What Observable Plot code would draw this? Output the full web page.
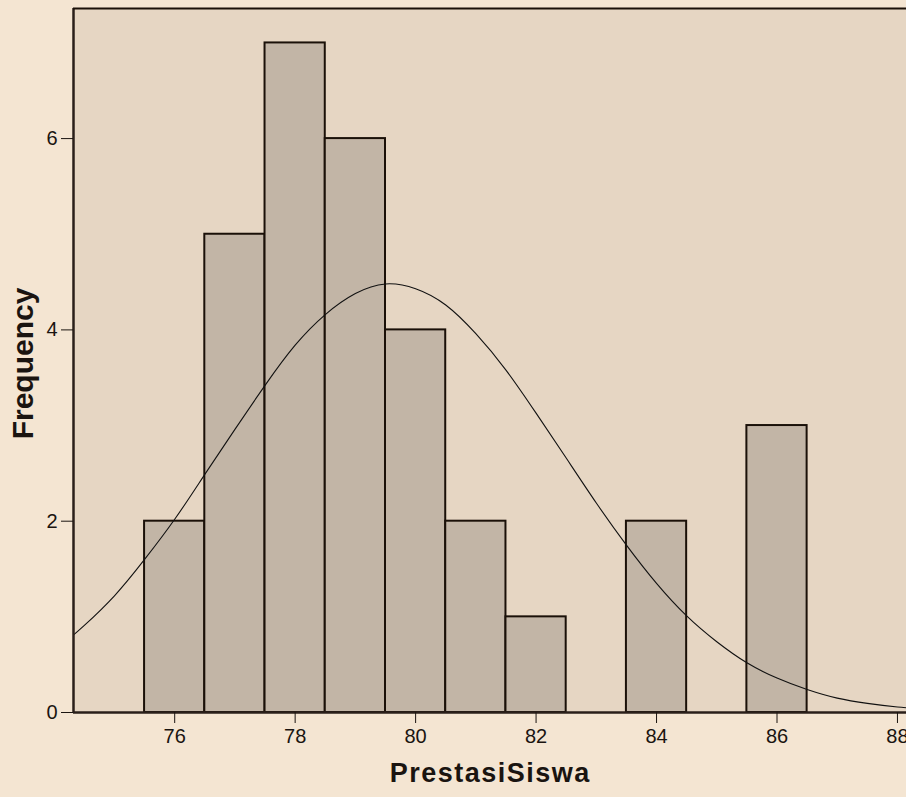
<!DOCTYPE html>
<html>
<head>
<meta charset="utf-8">
<script src="https://cdn.jsdelivr.net/npm/d3@7"></script>
<script src="https://cdn.jsdelivr.net/npm/@observablehq/plot@0.6"></script>
<style>
  html, body { margin: 0; padding: 0; background: #f4e5d2; }
  #chart { width: 906px; height: 797px; }
  svg { display: block; }
  #chart svg g[aria-label="x-axis tick label"] { font-size: 20px; }
  #chart svg g[aria-label="y-axis tick label"] { font-size: 20px; }
  #chart svg .xlab text { letter-spacing: 1.5px; }
</style>
</head>
<body>
<div id="chart"></div>
<script>
// Histogram bins (lower edge, upper edge) and frequencies
const binLower = [75.5, 76.5, 77.5, 78.5, 79.5, 80.5, 81.5, 83.5, 85.5];
const binUpper = [76.5, 77.5, 78.5, 79.5, 80.5, 81.5, 82.5, 84.5, 86.5];
const frequency = [2, 5, 7, 6, 4, 2, 1, 2, 3];

// Normal curve
const curveX = [74.3, 74.5, 75, 75.5, 76, 76.5, 77, 77.5, 78, 78.5, 79, 79.5, 80, 80.5, 81, 81.5, 82, 82.5, 83, 83.5, 84, 84.5, 85, 85.5, 86, 86.5, 87, 87.5, 88, 88.5];
const curveY = [0.80, 0.91, 1.22, 1.60, 2.02, 2.49, 2.96, 3.42, 3.84, 4.16, 4.38, 4.48, 4.43, 4.26, 3.96, 3.58, 3.13, 2.66, 2.19, 1.75, 1.35, 1.01, 0.74, 0.52, 0.36, 0.24, 0.15, 0.095, 0.058, 0.034];

const xTicks = [76, 78, 80, 82, 84, 86, 88];
const yTicks = [0, 2, 4, 6];

const bars = binLower.map((b, i) => ({x1: b, x2: binUpper[i], y: frequency[i]}));
const curve = curveX.map((x, i) => ({x, y: curveY[i]}));

const chart = Plot.plot({
  width: 906,
  height: 797,
  marginLeft: 73,
  marginRight: 0,
  marginTop: 8,
  marginBottom: 85,
  style: {background: "#f4e5d2", fontFamily: "Liberation Sans, Arial, sans-serif", color: "#1a1410"},
  x: {domain: [74.32, 88.15], label: null},
  y: {domain: [0, 7.36], label: null},
  marks: [
    Plot.frame({fill: "#e6d6c3", stroke: null}),
    Plot.rectY(bars, {x1: "x1", x2: "x2", y: "y", fill: "#c2b5a6", stroke: "#1a1008", strokeWidth: 2}),
    Plot.line(curve, {x: "x", y: "y", stroke: "#111", strokeWidth: 1.1, curve: "natural", clip: true}),
    Plot.ruleX([74.32], {stroke: "#2a1f1a", strokeWidth: 2.5}),
    Plot.ruleY([0], {stroke: "#2a1f1a", strokeWidth: 2.5}),
    Plot.ruleY([7.36], {stroke: "#1a1008", strokeWidth: 2}),
    Plot.axisX({ticks: xTicks, tickSize: 11, tickPadding: 5, stroke: "#1a1410", fill: "#1a1410", label: null}),
    Plot.axisY({ticks: yTicks, tickSize: 12, tickPadding: 4, stroke: "#1a1410", fill: "#1a1410", label: null}),
    Plot.text(["PrestasiSiswa"], {className: "xlab", frameAnchor: "bottom", dy: 69, x: 81.24, text: d => d, fontSize: 27, fontWeight: "bold", fill: "#1a1410"}),
    Plot.text(["Frequency"], {frameAnchor: "left", textAnchor: "middle", dx: -50, dy: 3, rotate: -90, text: d => d, fontSize: 30, fontWeight: "bold", fill: "#1a1410"})
  ]
});
document.getElementById("chart").appendChild(chart);
</script>
</body>
</html>
